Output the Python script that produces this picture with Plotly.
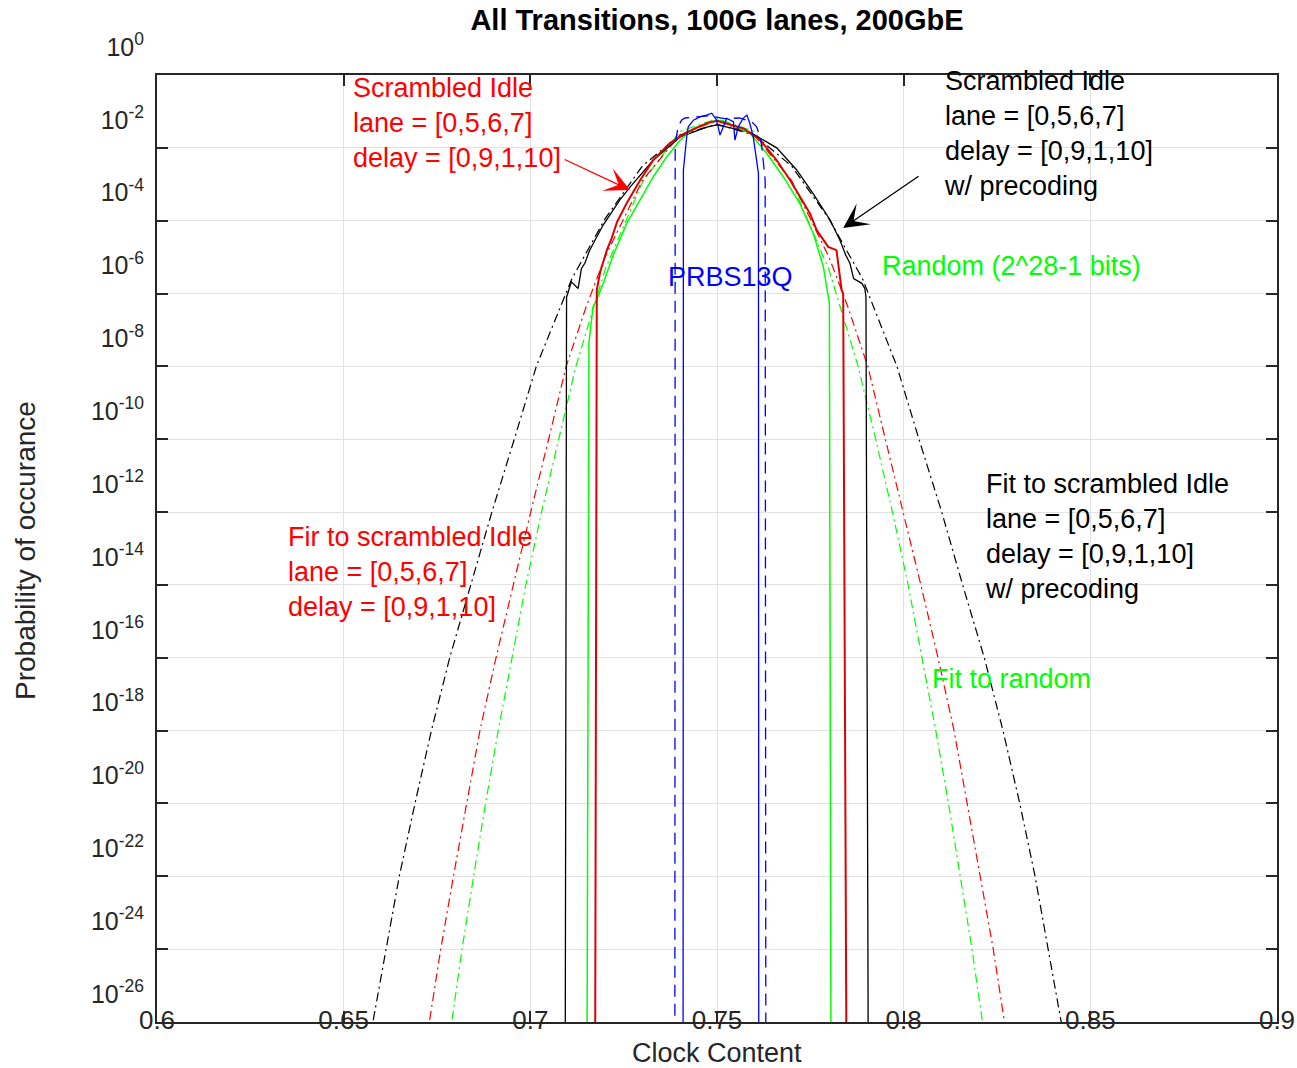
import numpy as np
import plotly.graph_objects as go

# ---- data: clock content (x) and log10 probability of occurrence (y) ----
# Scrambled Idle, lanes [0,5,6,7], delay [0,9,1,10], with precoding (measured)
blk_x = [0.7093, 0.7097, 0.7110, 0.7128, 0.7137, 0.7146, 0.7159, 0.7195, 0.7240, 0.7267,
         0.7329, 0.7401, 0.7473, 0.7500, 0.7588, 0.7660, 0.7713, 0.7757, 0.7803, 0.7829,
         0.7845, 0.7856, 0.7866, 0.7888, 0.7896, 0.7899, 0.7906]
blk_logp = [-30, -6.10, -5.68, -5.86, -5.31, -5.17, -4.81, -4.12, -3.43, -3.08,
            -2.34, -1.70, -1.43, -1.37, -1.57, -2.00, -2.60, -3.25, -3.98, -4.53,
            -4.95, -5.17, -5.59, -5.72, -5.86, -6.09, -30]

# Gaussian fit to the precoded scrambled Idle
blk_fit_x = [0.6543, 0.6579, 0.6613, 0.6649, 0.6691, 0.6735, 0.6784, 0.6840, 0.6897, 0.6957,
             0.7016, 0.7111, 0.7200, 0.7300, 0.7400, 0.7500, 0.7600, 0.7700, 0.7800, 0.7890,
             0.7982, 0.8041, 0.8102, 0.8158, 0.8216, 0.8266, 0.8311, 0.8352, 0.8387, 0.8420,
             0.8457]
blk_fit_logp = [-28, -26, -24, -22, -20, -18, -16, -14, -12, -10,
                -8, -5.6, -3.95, -2.5, -1.65, -1.35, -1.65, -2.5, -3.95, -5.6,
                -8, -10, -12, -14, -16, -18, -20, -22, -24, -26,
                -28]

# Scrambled Idle, lanes [0,5,6,7], delay [0,9,1,10] (measured)
red_x = [0.7173, 0.7178, 0.7187, 0.7205, 0.7218, 0.7232, 0.7258, 0.7294, 0.7329, 0.7374,
         0.7420, 0.7473, 0.7500, 0.7571, 0.7616, 0.7660, 0.7696, 0.7722, 0.7749, 0.7767,
         0.7798, 0.7820, 0.7829, 0.7834, 0.7838, 0.7848]
red_logp = [-30, -5.90, -5.41, -4.81, -4.48, -4.04, -3.52, -2.89, -2.34, -1.87,
            -1.57, -1.32, -1.26, -1.47, -1.79, -2.34, -2.89, -3.34, -3.80, -4.26,
            -4.72, -4.81, -5.45, -5.91, -6.00, -30]

# Gaussian fit to the scrambled Idle
red_fit_x = [0.6699, 0.6730, 0.6760, 0.6794, 0.6830, 0.6865, 0.6908, 0.6954, 0.7001, 0.7049,
             0.7096, 0.7150, 0.7200, 0.7300, 0.7400, 0.7500, 0.7600, 0.7700, 0.7800, 0.7850,
             0.7904, 0.7951, 0.7999, 0.8046, 0.8092, 0.8135, 0.8170, 0.8206, 0.8240, 0.8270,
             0.8301]
red_fit_logp = [-28, -26, -24, -22, -20, -18, -16, -14, -12, -10,
                -8, -6.35, -5.0, -2.9, -1.65, -1.25, -1.65, -2.9, -5.0, -6.35,
                -8, -10, -12, -14, -16, -18, -20, -22, -24, -26,
                -28]

# Random data (2^28-1 bits, measured)
grn_x = [0.7151, 0.7157, 0.7168, 0.7181, 0.7195, 0.7222, 0.7258, 0.7293, 0.7329, 0.7365,
         0.7401, 0.7437, 0.7485, 0.7510, 0.7588, 0.7633, 0.7678, 0.7722, 0.7758, 0.7785,
         0.7794, 0.7801, 0.7806]
grn_logp = [-30, -7.35, -6.37, -6.09, -5.73, -4.95, -4.08, -3.44, -2.80, -2.25,
            -1.79, -1.47, -1.28, -1.24, -1.60, -2.15, -2.80, -3.53, -4.35, -5.27,
            -5.91, -6.27, -30]

# Gaussian fit to random data
grn_fit_x = [0.6762, 0.6789, 0.6817, 0.6848, 0.6880, 0.6914, 0.6950, 0.6988, 0.7030, 0.7075,
             0.7122, 0.7166, 0.7200, 0.7300, 0.7400, 0.7500, 0.7600, 0.7700, 0.7800, 0.7834,
             0.7878, 0.7925, 0.7970, 0.8012, 0.8050, 0.8086, 0.8120, 0.8152, 0.8183, 0.8211,
             0.8238]
grn_fit_logp = [-28, -26, -24, -22, -20, -18, -16, -14, -12, -10,
                -8, -6.5, -5.35, -2.95, -1.55, -1.2, -1.55, -2.95, -5.35, -6.5,
                -8, -10, -12, -14, -16, -18, -20, -22, -24, -26,
                -28]

# PRBS13Q
prbs_x = [0.7409, 0.7410, 0.7419, 0.7423, 0.7437, 0.7454, 0.7472, 0.7486, 0.7499, 0.7508,
          0.7517, 0.7526, 0.7544, 0.7548, 0.7557, 0.7570, 0.7580, 0.7588, 0.7597, 0.7611,
          0.7612]
prbs_logp = [-30, -2.61, -1.69, -1.42, -1.24, -1.15, -1.10, -1.05, -1.24, -1.65,
             -1.42, -1.19, -1.28, -1.79, -1.42, -1.19, -1.10, -1.33, -1.69, -2.70,
             -30]

prbs_b_x = [0.7387, 0.7388, 0.7396, 0.7405, 0.7414, 0.7440, 0.7480, 0.7520, 0.7560, 0.7593,
            0.7606, 0.7615, 0.7620, 0.7629, 0.7631]
prbs_b_logp = [-30, -1.88, -1.42, -1.24, -1.18, -1.15, -1.12, -1.20, -1.18, -1.28,
               -1.42, -1.69, -1.97, -2.88, -30]

# axis ticks
x_ticks = [0.6, 0.65, 0.7, 0.75, 0.8, 0.85, 0.9]
x_tick_text = ["0.6", "0.65", "0.7", "0.75", "0.8", "0.85", "0.9"]
y_exponents = list(range(-26, 1, 2))

FONT = "Liberation Sans, Arial, Helvetica, sans-serif"
AX = "#262626"
DASHDOT = "9px,4px,2px,4px"

fig = go.Figure()


def add_line(x, logp, color, width=1.3, dash="solid"):
    fig.add_trace(go.Scatter(
        x=x, y=10.0 ** np.asarray(logp, dtype=float), mode="lines",
        line=dict(color=color, width=width, dash=dash),
        showlegend=False, hoverinfo="skip"))


add_line(blk_fit_x, blk_fit_logp, "#000000", 1.2, DASHDOT)
add_line(grn_fit_x, grn_fit_logp, "#00ff00", 1.2, DASHDOT)
add_line(red_fit_x, red_fit_logp, "#ff0000", 1.2, DASHDOT)
add_line(blk_x, blk_logp, "#000000", 1.3)
add_line(grn_x, grn_logp, "#00ff00", 1.5)
add_line(red_x, red_logp, "#e00000", 2.0)
add_line(prbs_b_x, prbs_b_logp, "#0000ff", 1.3, "12px,7px")
add_line(prbs_x, prbs_logp, "#0000ff", 1.3)

annotations = []


def label(x, y, text, color, anchor="left"):
    annotations.append(dict(
        x=x, y=y, xref="x", yref="y", text=text, showarrow=False,
        xanchor=anchor, yanchor="middle", align="left",
        font=dict(family=FONT, size=27, color=color)))


label(0.6520, -1.318, "Scrambled Idle<br>lane = [0,5,6,7]<br>delay = [0,9,1,10]", "#ff0000")
label(0.8104, -1.606, "Scrambled Idle<br>lane = [0,5,6,7]<br>delay = [0,9,1,10]<br>w/ precoding", "#000000")
label(0.7537, -5.55, "PRBS13Q", "#0000ff", anchor="center")
label(0.7937, -5.24, "Random (2^28-1 bits)", "#00ff00")
label(0.8212, -12.67, "Fit to scrambled Idle<br>lane = [0,5,6,7]<br>delay = [0,9,1,10]<br>w/ precoding", "#000000")
label(0.6346, -13.65, "Fir to scrambled Idle<br>lane = [0,5,6,7]<br>delay = [0,9,1,10]", "#ff0000")
label(0.8071, -16.58, "Fit to random", "#00ff00")

# arrows pointing at the two scrambled-Idle curves
for tip_x, tip_y, tail_x, tail_y, col in [
        (0.7267, -3.16, 0.7088, -2.30, "#ff0000"),
        (0.7838, -4.20, 0.8044, -2.75, "#000000")]:
    annotations.append(dict(
        x=tip_x, y=tip_y, ax=tail_x, ay=tail_y, xref="x", yref="y",
        axref="x", ayref="y", text="", showarrow=True,
        arrowhead=3, arrowsize=3.2, arrowwidth=1.3, arrowcolor=col, standoff=0))

# axis titles
annotations.append(dict(x=0.5, y=-0.033, xref="paper", yref="paper", text="Clock Content",
                        showarrow=False, xanchor="center", yanchor="middle",
                        font=dict(family=FONT, size=27, color=AX)))
annotations.append(dict(x=-0.1179, y=0.4984, xref="paper", yref="paper",
                        text="Probability of occurance", textangle=-90,
                        showarrow=False, xanchor="center", yanchor="middle",
                        font=dict(family=FONT, size=28, color=AX)))

fig.update_layout(
    width=1297, height=1068,
    margin=dict(l=157, r=20, t=75, b=46, autoexpand=False),
    paper_bgcolor="white", plot_bgcolor="white",
    font=dict(family=FONT, color=AX),
    title=dict(text="<b>All Transitions, 100G lanes, 200GbE</b>",
               x=0.5, xref="paper", y=1 - 20 / 1068, yref="container",
               xanchor="center", yanchor="middle",
               font=dict(family=FONT, size=29, color="#000000")),
    annotations=annotations,
)

fig.update_xaxes(
    range=[0.6, 0.9], tickvals=x_ticks, ticktext=x_tick_text,
    showgrid=True, gridcolor="#e2e2e2", gridwidth=1, zeroline=False,
    showline=True, linecolor=AX, linewidth=2, mirror="allticks",
    ticks="inside", ticklen=11, tickcolor=AX, tickwidth=1.5,
    tickfont=dict(family=FONT, size=26, color=AX),
    ticklabelstandoff=-26, automargin=False,
)
fig.update_yaxes(
    type="log", range=[-26, 0],
    tickvals=[10.0 ** e for e in y_exponents],
    ticktext=[f"10<sup>{e}</sup>" for e in y_exponents],
    showgrid=True, gridcolor="#e2e2e2", gridwidth=1, zeroline=False,
    showline=True, linecolor=AX, linewidth=2, mirror="allticks",
    ticks="inside", ticklen=11, tickcolor=AX, tickwidth=1.5,
    tickfont=dict(family=FONT, size=25, color=AX),
    ticklabelshift=-28, ticklabelstandoff=6, automargin=False,
)

fig.write_html("out.html")
